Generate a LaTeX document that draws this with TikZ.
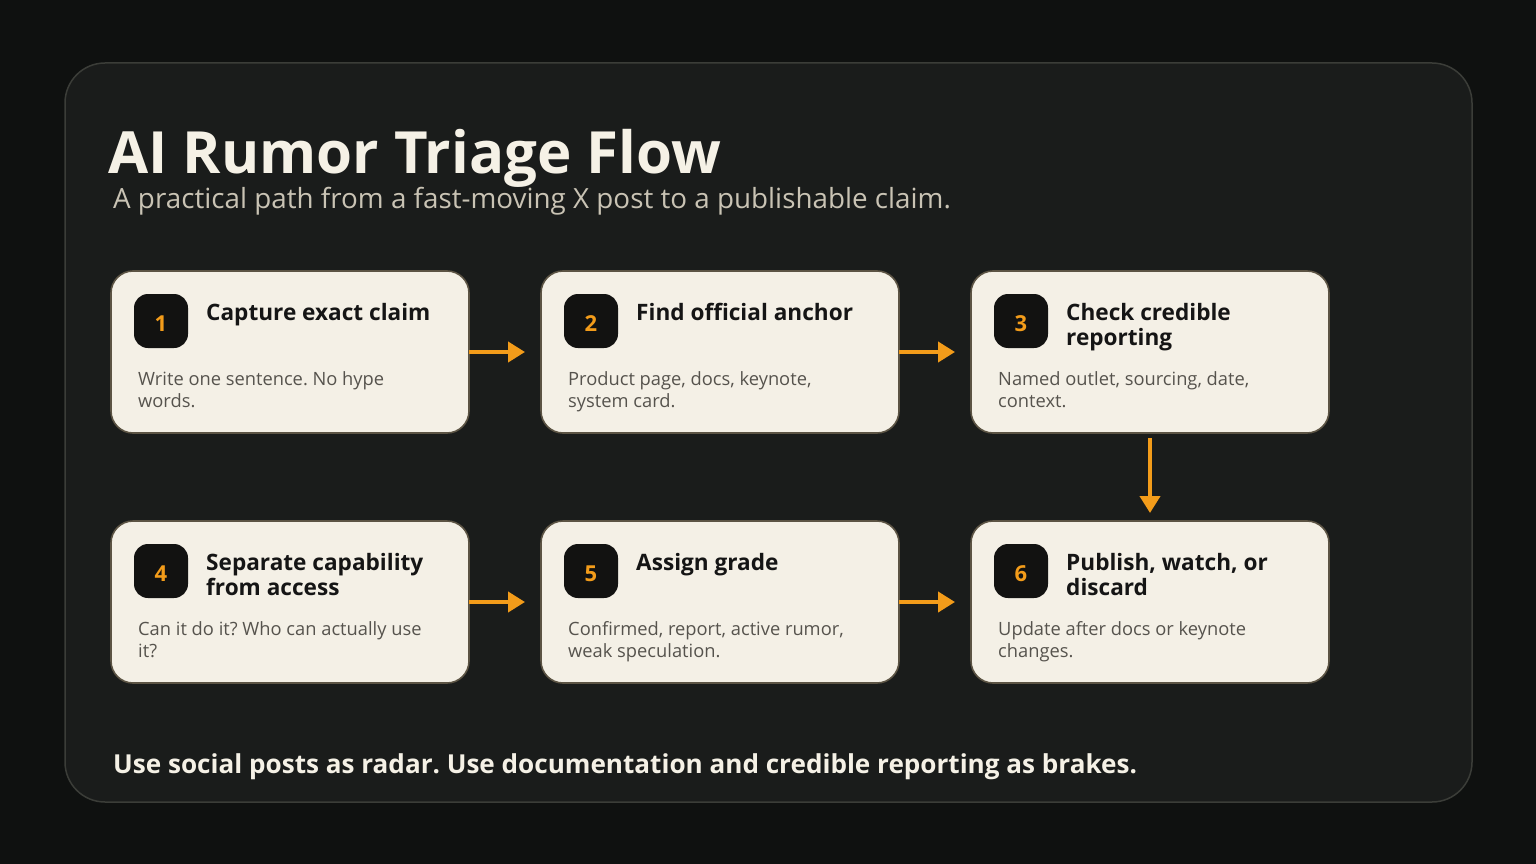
\documentclass[tikz,border=0pt]{standalone}
\usepackage{fontspec}
\setmainfont{Open Sans}
\frenchspacing
\usetikzlibrary{arrows.meta}
\definecolor{bgc}{HTML}{0F1110}
\definecolor{panelc}{HTML}{1A1C1B}
\definecolor{panelb}{HTML}{3B3D38}
\definecolor{cardc}{HTML}{F4F0E6}
\definecolor{cardb}{HTML}{5C5444}
\definecolor{badgec}{HTML}{121211}
\definecolor{orangec}{HTML}{F39C1A}
\definecolor{headc}{HTML}{151515}
\definecolor{descc}{HTML}{56534D}
\definecolor{titlec}{HTML}{F5F1E6}
\definecolor{subc}{HTML}{C9C3B4}
\tikzset{
  card/.style={draw=cardb, line width=1.6pt, fill=cardc, rounded corners=22pt,
    minimum width=358pt, minimum height=162pt, inner sep=0pt, outer sep=0pt},
  badge/.style={fill=badgec, rounded corners=14pt, minimum width=54pt, minimum height=54pt,
    inner sep=0pt, outer sep=0pt},
  numtxt/.style={inner sep=0pt, text=orangec, font=\fontsize{22}{26}\selectfont\bfseries},
  head/.style={anchor=base west, inner sep=0pt, text=headc, font=\fontsize{22.6}{26}\selectfont\bfseries},
  desc/.style={anchor=base west, inner sep=0pt, text=descc, font=\fontsize{18.3}{21}\selectfont},
  flow/.style={draw=orangec, line width=4pt, -{Triangle[length=17pt,width=20pt]}},
}
\newcommand\mkcard[8]{%
  \node[card, anchor=north west] (#1) at (#2,#3) {};
  \node[badge, anchor=north west] (#1n) at ([shift={(23,23)}]#1.north west) {};
  \node[numtxt] (#1nt) at ([shift={(0,2.5)}]#1n.center) {#4};
  \node[head] (#1h1) at ([shift={(95,49)}]#1.north west) {#5};
  \node[head] (#1h2) at ([shift={(95,74)}]#1.north west) {#6};
  \node[desc] (#1d1) at ([shift={(27,114)}]#1.north west) {#7};
  \node[desc] (#1d2) at ([shift={(27,136)}]#1.north west) {#8};
}
\begin{document}
\begin{tikzpicture}[x=1pt,y=-1pt]
\fill[bgc] (0,0) rectangle (1536,864);
\useasboundingbox (0,0) rectangle (1536,864);
\draw[panelb, fill=panelc, line width=1.5pt, rounded corners=40pt] (65,63) rectangle (1472,802);
\node[anchor=base west, inner sep=0pt, text=titlec, font=\fontsize{58.2}{64}\selectfont\bfseries] (title) at (108,173) {AI Rumor Triage Flow};
\node[anchor=base west, inner sep=0pt, text=subc, font=\fontsize{27.8}{30}\selectfont] (subtitle) at (113,208) {A practical path from a fast-moving X post to a publishable claim.};
\mkcard{c1}{111}{271}{1}{Capture exact claim}{}{Write one sentence. No hype}{words.}
\mkcard{c2}{541}{271}{2}{Find official anchor}{}{Product page, docs, keynote,}{system card.}
\mkcard{c3}{971}{271}{3}{Check credible}{reporting}{Named outlet, sourcing, date,}{context.}
\mkcard{c4}{111}{521}{4}{Separate capability}{from access}{Can it do it? Who can actually use}{it?}
\mkcard{c5}{541}{521}{5}{Assign grade}{}{Confirmed, report, active rumor,}{weak speculation.}
\mkcard{c6}{971}{521}{6}{Publish, watch, or}{discard}{Update after docs or keynote}{changes.}
\draw[flow, shorten >=16pt] (c1.east) -- (c2.west);
\draw[flow, shorten >=16pt] (c2.east) -- (c3.west);
\draw[flow, shorten <=5pt, shorten >=8pt] (c3.south) -- (c6.north);
\draw[flow, shorten >=16pt] (c4.east) -- (c5.west);
\draw[flow, shorten >=16pt] (c5.east) -- (c6.west);
\node[anchor=base west, inner sep=0pt, text=titlec, font=\fontsize{26.1}{30}\selectfont\bfseries] (footer) at (113,773) {Use social posts as radar. Use documentation and credible reporting as brakes.};
\end{tikzpicture}
\end{document}
